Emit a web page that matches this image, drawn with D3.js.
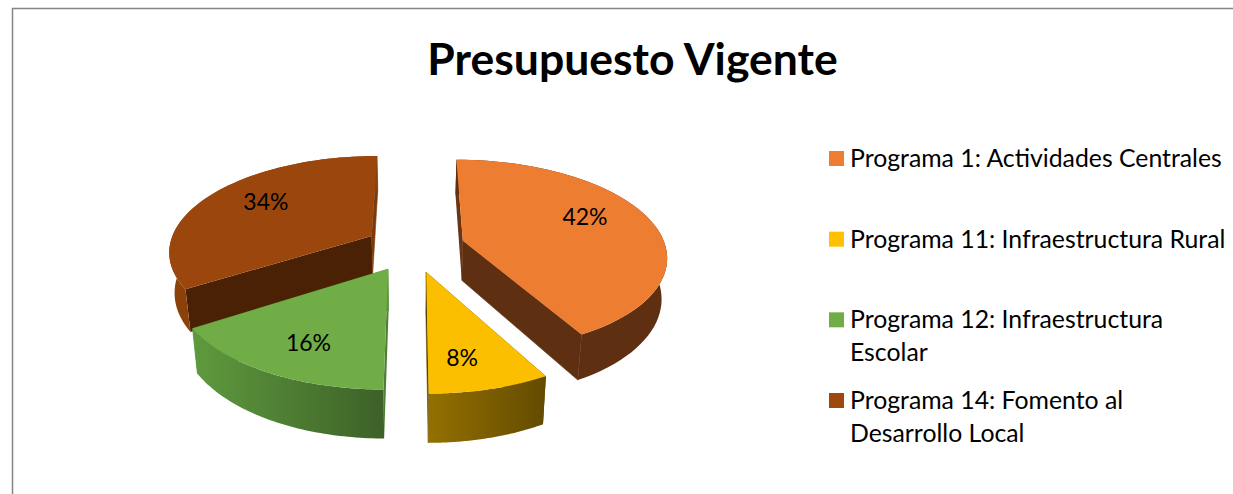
<!DOCTYPE html>
<html><head><meta charset="utf-8">
<script src="https://cdn.jsdelivr.net/npm/d3@7"></script>
<style>html,body{margin:0;padding:0;background:#fff;overflow:hidden}svg{display:block}text{font-family:Lato,"Open Sans",sans-serif;fill:#000}</style>
</head><body><svg id="c" width="1233" height="494"></svg>
<script>
const titleText = "Presupuesto Vigente";
const categories = ["Programa 1: Actividades Centrales","Programa 11: Infraestructura Rural","Programa 12: Infraestructura Escolar","Programa 14: Fomento al Desarrollo Local"];
const legendLines = [["Programa 1: Actividades Centrales"],["Programa 11: Infraestructura Rural"],["Programa 12: Infraestructura","Escolar"],["Programa 14: Fomento al","Desarrollo Local"]];
const values = [42,8,16,34];
const topColors = ["#ED7D31","#FBBF00","#70AD47","#9A460C"];
const legendColors = ["#ED7D31","#FFC000","#70AD47","#9E480E"];
const rimFrom = ["#5F2F12","#947000","#5F9A3E","#8C410B"];
const rimTo   = ["#5F2F12","#634B00","#3D6128","#8C410B"];
const startCut = ["#6B3512","#5A4400","#4F7F33","#4A2104"];
const endCut   = ["#5F2F12","#5A4400","#5B9539","#7B3A0C"];

const W=1233,H=494,cx=413,cy=247,R=195,Sx=1.04,T=0.487,persp=0.15,drop=40,baseShrink=0.978;
const explodeBy=[52,51,50,48];
const svg=d3.select("#c");
const defs=svg.append("defs");
svg.append("path").attr("d",`M12.5,${H}V8.5H${W}`).attr("fill","none").attr("stroke","#858585").attr("stroke-width",1.5);

const rad=d3.scaleLinear().domain([0,360]).range([0,2*Math.PI]);
const pie=d3.pie().sort(null).startAngle(rad(0)).endAngle(rad(360)).value(d=>d);
const arcs=pie(values);
const line=d3.line().x(d=>d[0]).y(d=>d[1]);

function project(a,mid,r,low,e){
  const X=e*Math.sin(mid)+r*Sx*Math.sin(a), Y=-e*Math.cos(mid)-r*Math.cos(a);
  const s=1/(1-persp*Y/R);
  let x=X*s,y=T*Y*s;
  if(low){x*=baseShrink;y+=drop*s;}
  return [cx+x,cy+y];
}
const order=[3,0,2,1];
order.forEach(i=>{
  const d=arcs[i],mid=(d.startAngle+d.endAngle)/2,e=explodeBy[i];
  const n=d3.range(0,61).map(k=>d.startAngle+(d.endAngle-d.startAngle)*k/60);
  const apexT=project(0,mid,0,false,e),apexB=project(0,mid,0,true,e);
  const rimT=n.map(a=>project(a,mid,R,false,e)),rimB=n.map(a=>project(a,mid,R,true,e));
  const g=svg.append("g");
  const gid="rim"+i;
  const lg=defs.append("linearGradient").attr("id",gid).attr("gradientUnits","userSpaceOnUse")
    .attr("x1",d3.min(rimT,p=>p[0])).attr("x2",d3.max(rimT,p=>p[0])).attr("y1",0).attr("y2",0);
  lg.append("stop").attr("offset",0).attr("stop-color",rimFrom[i]);
  lg.append("stop").attr("offset",1).attr("stop-color",rimTo[i]);
  g.append("path").attr("d",line([apexT,apexB,rimB[0],rimT[0]])+"Z").attr("fill",startCut[i]);
  g.append("path").attr("d",line([apexT,apexB,rimB[60],rimT[60]])+"Z").attr("fill",endCut[i]).attr("stroke",endCut[i]).attr("stroke-width",0.6);
  g.append("path").attr("d",line(rimT.concat(rimB.slice().reverse()))+"Z").attr("fill",`url(#${gid})`);
  g.append("path").attr("d",line([apexT].concat(rimT))+"Z").attr("fill",topColors[i]);
});

const labelFrac=[0.66,0.6,0.57,0.6];
const labelDx=[-2,0,-15,-7],labelDy=[-9,20,19,-9];
arcs.forEach((d,i)=>{
  const mid=(d.startAngle+d.endAngle)/2;
  const p=project(mid,mid,R*labelFrac[i],false,explodeBy[i]);
  svg.append("text").attr("x",p[0]+labelDx[i]).attr("y",p[1]+8+labelDy[i]).attr("text-anchor","middle")
    .attr("font-size",23).text(d3.format(".0%")(d.value/100));
});

svg.append("text").attr("x",632.5).attr("y",75).attr("text-anchor","middle")
  .attr("font-size",44.5).attr("font-weight",700).text(titleText);

const legendY=d3.scalePoint().domain(d3.range(4)).range([151,393]);
legendLines.forEach((ls,i)=>{
  const y=legendY(i);
  svg.append("rect").attr("x",829).attr("y",y).attr("width",15).attr("height",15).attr("fill",legendColors[i]);
  ls.forEach((t,k)=>svg.append("text").attr("x",850).attr("y",y+16+k*32.5).attr("font-size",24.8).text(t));
});
</script></body></html>
